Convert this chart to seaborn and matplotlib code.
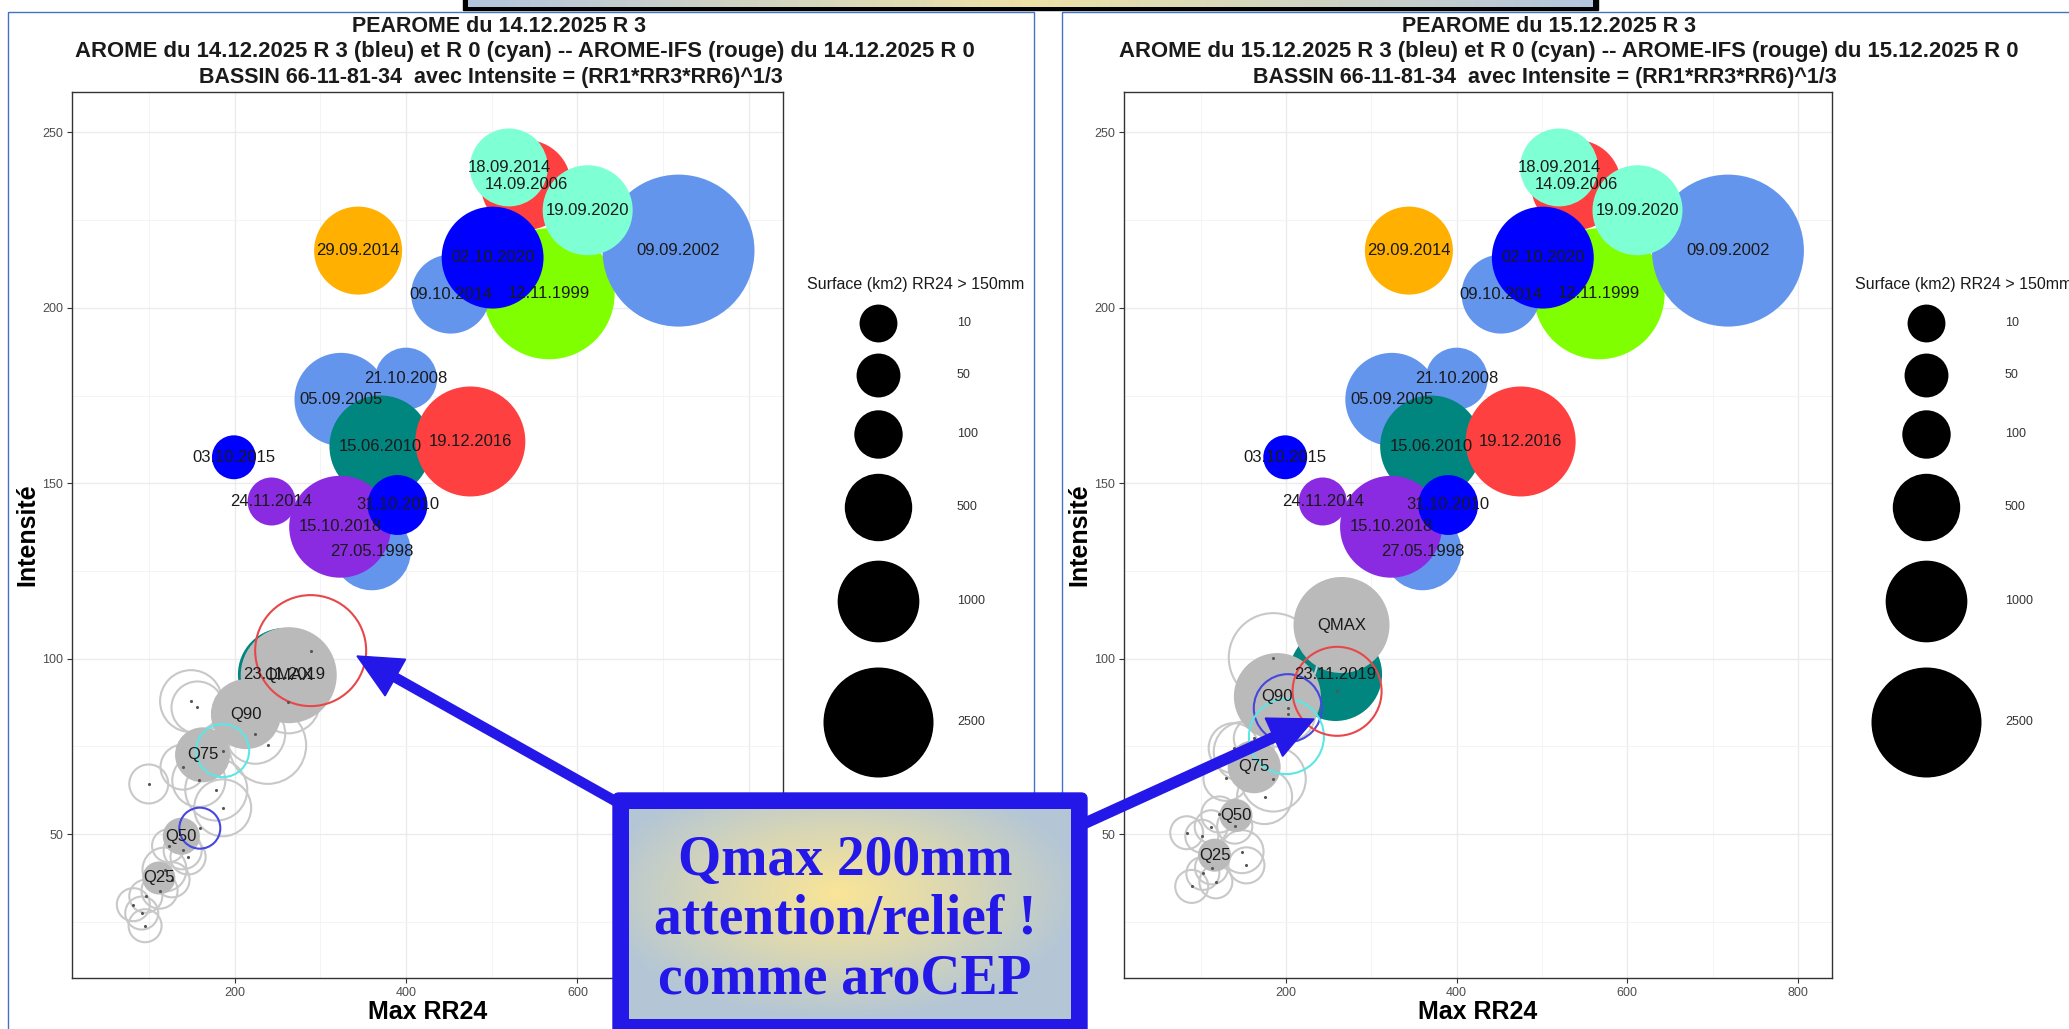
import numpy as np
import pandas as pd
import seaborn as sns
import matplotlib.pyplot as plt
from matplotlib.colors import LinearSegmentedColormap
from matplotlib.patches import Rectangle, FancyBboxPatch, FancyArrow

# === DATA ===
# historical events (identical on both panels), listed in drawing order
hist_dates = ['12.11.1999', '09.09.2002', '14.09.2006', '09.10.2014', '02.10.2020',
              '18.09.2014', '19.09.2020', '29.09.2014', '05.09.2005', '21.10.2008',
              '15.06.2010', '19.12.2016', '27.05.1998', '15.10.2018', '31.10.2010',
              '24.11.2014', '03.10.2015', '23.11.2019']
hist_rr24 = [567, 718, 540, 452, 501, 520, 612, 344, 324, 400,
             370, 475, 360, 323, 390, 243, 199, 258]
hist_intens = [204, 216.3, 235, 203.9, 214.3, 240, 227.8, 216.3, 173.9, 179.8,
               160.5, 161.9, 130.6, 137.6, 143.8, 144.8, 157.4, 95.5]
hist_surface = [4050, 5970, 1370, 890, 2000, 850, 1370, 1275, 1520, 355,
                2000, 2500, 850, 2000, 305, 95, 50, 1520]
hist_colors = ['#7FFF00', '#6495ED', '#FF4040', '#6495ED', '#0000FF',
               '#7FFFD4', '#7FFFD4', '#FFB000', '#6495ED', '#6495ED',
               '#00857F', '#FF4040', '#6495ED', '#8A2BE2', '#0000FF',
               '#8A2BE2', '#0000FF', '#00857F']

# PEAROME members, run of 14.12.2025
pe14_rr24 = [149, 156.5, 223.9, 238.4, 262.7, 139.6, 158, 178.4, 185.9, 99.6,
             122.7, 139.2, 145.5, 118, 112.2, 96.1, 81.6, 91.4, 95.3, 126.7]
pe14_intens = [87.9, 86.1, 78.6, 75.3, 87.7, 69.1, 65.3, 62.7, 57.5, 64.3,
               46.7, 45.4, 43.5, 39.9, 33.9, 32.3, 29.9, 27.5, 23.9, 37]
pe14_surface = [355, 152, 307, 816, 379, 61, 169, 355, 243, 15,
                0, 11, 2, 51, 4, 0, 0, 0, 0, 2]
# PEAROME quantiles, run of 14.12.2025
q_labels = ['Q25', 'Q50', 'Q75', 'Q90', 'QMAX']
q14_rr24 = [111.4, 137.6, 162.4, 213, 263]
q14_intens = [37.5, 49.4, 72.6, 84.2, 95.3]
q14_surface = [0, 7, 204, 577, 1673]
# deterministic runs: AROME R3 (bleu), AROME R0 (cyan), AROME-IFS R0 (rouge)
det_colors = ['#4646E0', '#5CE6E6', '#E8474A']
det14_rr24 = [159.2, 185.9, 288.6]
det14_intens = [51.7, 73.8, 102.3]
det14_surface = [27, 169, 2565]

# PEAROME members, run of 15.12.2025
pe15_rr24 = [185, 202, 138.6, 150.4, 185, 174.8, 129.5, 162.2, 83.5, 101.2,
             112.2, 121.7, 139.8, 148.4, 153.5, 102.4, 117.7, 89.4, 112.6]
pe15_intens = [100.3, 84.3, 74.5, 73.5, 65.7, 60.7, 65.9, 77.3, 50.4, 49.4,
               52.1, 55.6, 52.3, 45, 41.1, 38.8, 36.4, 35.1, 40.4]
pe15_surface = [1322, 204, 122, 307, 432, 204, 61, 21, 0, 0,
                0, 4, 2, 42, 4, 0, 0, 0, 0]
q15_rr24 = [116.1, 141.3, 162.6, 189.8, 265]
q15_intens = [44, 55.3, 69.2, 89.2, 109.6]
q15_surface = [0, 0, 169, 1230, 1673]
det15_rr24 = [202, 200.4, 259.8]
det15_intens = [85.9, 77.8, 90.7]
det15_surface = [516, 744, 1322]

leg_breaks = [10, 50, 100, 500, 1000, 2500]

titles = {
    14: ["PEAROME du 14.12.2025 R 3",
         "AROME du 14.12.2025 R 3 (bleu) et R 0 (cyan) -- AROME-IFS (rouge) du 14.12.2025 R 0",
         "BASSIN 66-11-81-34  avec Intensite = (RR1*RR3*RR6)^1/3"],
    15: ["PEAROME du 15.12.2025 R 3",
         "AROME du 15.12.2025 R 3 (bleu) et R 0 (cyan) -- AROME-IFS (rouge) du 15.12.2025 R 0",
         "BASSIN 66-11-81-34  avec Intensite = (RR1*RR3*RR6)^1/3"],
}
note_lines = ['Qmax 200mm', 'attention/relief !', 'comme aroCEP']

# === SETTINGS ===
W, H, DPI = 2069, 1029, 100
BLUE = '#2318E8'
sns.set_style("white")
plt.rcParams['font.family'] = ['Liberation Sans', 'DejaVu Sans']


def diam_px(surface):
    # bubble diameter (pixels)
    return 33 + 1.54 * np.sqrt(np.asarray(surface, dtype=float))


def area_pt(surface):
    return float((diam_px(surface) * 72 / DPI) ** 2)


def bubbles(ax, x, y, surf, colors, ring=False, lw=1.5):
    df = pd.DataFrame({'x': x, 'y': y, 'surf': surf, 'col': colors})
    sizes = {v: area_pt(v) for v in df['surf'].unique()}
    sns.scatterplot(data=df, x='x', y='y', hue='col',
                    palette={c: c for c in df['col'].unique()},
                    size='surf', sizes=sizes, linewidth=0, edgecolor='none',
                    legend=False, ax=ax)
    pts = ax.collections[-1]
    if ring:
        pts.set_edgecolor(pts.get_facecolors())
        pts.set_facecolor('none')
        pts.set_linewidth(lw)


def draw_panel(ax, pe, q, det):
    bubbles(ax, hist_rr24, hist_intens, hist_surface, hist_colors)
    bubbles(ax, pe[0], pe[1], pe[2], ['#C8C8C8'] * len(pe[0]), ring=True)
    bubbles(ax, q[0], q[1], q[2], ['#BABABA'] * len(q[0]))
    bubbles(ax, det[0], det[1], det[2], det_colors, ring=True)
    # member / model centres
    sns.scatterplot(x=list(pe[0]) + list(det[0]), y=list(pe[1]) + list(det[1]),
                    s=5, color='#555555', linewidth=0, legend=False, ax=ax)
    for lab, xx, yy in zip(hist_dates, hist_rr24, hist_intens):
        ax.text(xx, yy, lab, ha='center', va='center', fontsize=12, color='#1A1A1A')
    for lab, xx, yy in zip(q_labels, q[0], q[1]):
        ax.text(xx, yy, lab, ha='center', va='center', fontsize=12, color='#1A1A1A')

    ax.set_xlim(10, 840)
    ax.set_ylim(9, 261.5)
    ax.set_xticks([200, 400, 600, 800])
    ax.set_xticks([100, 300, 500, 700], minor=True)
    ax.set_yticks([50, 100, 150, 200, 250])
    ax.set_yticks([25, 75, 125, 175, 225], minor=True)
    ax.grid(which='major', color='#EBEBEB', linewidth=1.0)
    ax.grid(which='minor', color='#F3F3F3', linewidth=0.6)
    ax.set_axisbelow(True)
    ax.tick_params(which='major', direction='out', length=3.5, width=0.8, color='#333333',
                   labelsize=9, labelcolor='#4D4D4D', pad=3, bottom=True, left=True)
    ax.tick_params(which='minor', length=0)
    for sp in ax.spines.values():
        sp.set_color('#333333')
        sp.set_linewidth(1.0)
    ax.set_xlabel('')
    ax.set_ylabel('')


fig = plt.figure(figsize=(W / DPI, H / DPI), dpi=DPI)
panels = [
    (14, [72, 92, 783, 978], (pe14_rr24, pe14_intens, pe14_surface),
     (q14_rr24, q14_intens, q14_surface), (det14_rr24, det14_intens, det14_surface),
     [499, 525, 491], 807),
    (15, [1124, 92, 1832, 978], (pe15_rr24, pe15_intens, pe15_surface),
     (q15_rr24, q15_intens, q15_surface), (det15_rr24, det15_intens, det15_surface),
     [1549, 1569, 1545], 1855),
]
for key, (x0, y0, x1, y1), pe, q, det, tx, lx in panels:
    ax = fig.add_axes([x0 / W, 1 - y1 / H, (x1 - x0) / W, (y1 - y0) / H])
    draw_panel(ax, pe, q, det)

# overlay in pixel coordinates for titles, legends and the annotation
ov = fig.add_axes([0, 0, 1, 1])
ov.set_xlim(0, W)
ov.set_ylim(H, 0)
ov.axis('off')
ov.patch.set_alpha(0)

for key, (x0, y0, x1, y1), pe, q, det, tx, lx in panels:
    for line, cx, ty, fs in zip(titles[key], tx, [26, 52, 77], [15.5, 15.9, 15.5]):
        ov.text(cx, ty, line, ha='center', va='center', fontsize=fs, fontweight='bold',
                color='#1A1A1A')
    ov.text((x0 + x1) / 2, 1012, 'Max RR24', ha='center', va='center', fontsize=18,
            fontweight='bold', color='black')
    ov.text(x0 - 45, (y0 + y1) / 2, 'Intensité', ha='center', va='center', rotation=90,
            fontsize=18, fontweight='bold', color='black')
    # size legend
    ov.text(lx, 285, 'Surface (km2) RR24 > 150mm', ha='left', va='center', fontsize=11.5,
            color='#1A1A1A')
    cy, prev = 323, None
    for v in leg_breaks:
        d = float(diam_px(v))
        if prev is not None:
            cy += (1.25 * prev + 1.25 * d) / 2 + 1
        ov.scatter([lx + 71], [cy], s=area_pt(v), color='black', linewidth=0)
        ov.text(lx + 150, cy, str(v), ha='left', va='center', fontsize=9, color='#333333')
        prev = d

# panel frames
ov.add_patch(Rectangle((8, 12), 1026, 1040, fill=False, edgecolor='#4472C4', linewidth=1.0))
ov.add_patch(Rectangle((1062, 12), 1040, 1040, fill=False, edgecolor='#4472C4', linewidth=1.0))

# top banner (bottom of a slide title box)
band = LinearSegmentedColormap.from_list('band', ['#B3C5DE', '#EDE2A6', '#B3C5DE'])
ov.add_patch(Rectangle((463, -2), 1135, 12, color='black', zorder=2))
ov.imshow(np.linspace(0, 1, 256)[None, :], cmap=band, extent=(468, 1593, 7, 0),
          aspect='auto', zorder=3)

# arrows
ov.add_patch(FancyArrow(640, 815, 357 - 640, 656 - 815, width=9, head_width=42,
                        head_length=44, length_includes_head=True, color=BLUE, zorder=4))
ov.add_patch(FancyArrow(1070, 830, 1314 - 1070, 719 - 830, width=10, head_width=42,
                        head_length=44, length_includes_head=True, color=BLUE, zorder=4))

# annotation box
ov.add_patch(FancyBboxPatch((613, 793), 474, 260, boxstyle='round,pad=0,rounding_size=6',
                            color=BLUE, zorder=5))
gx, gy = np.meshgrid(np.linspace(-1, 1, 300), np.linspace(-1, 1, 160))
rad = np.sqrt(((gx + 0.05) / 1.1) ** 2 + ((gy + 0.2) / 1.2) ** 2)
glow = LinearSegmentedColormap.from_list('glow', ['#FAE597', '#D9D7B4', '#B4C6D6'])
ov.imshow(np.clip(rad, 0, 1), cmap=glow, extent=(629, 1071, 1019, 809), aspect='auto',
          zorder=6, vmin=0, vmax=1)
for line, ty in zip(note_lines, [861, 920, 980]):
    ov.text(845, ty, line, ha='center', va='center', fontsize=40, fontweight='bold',
            family='Liberation Serif', color=BLUE, zorder=7)

ov.set_xlim(0, W)
ov.set_ylim(H, 0)

fig.savefig('out.png', dpi=DPI)
